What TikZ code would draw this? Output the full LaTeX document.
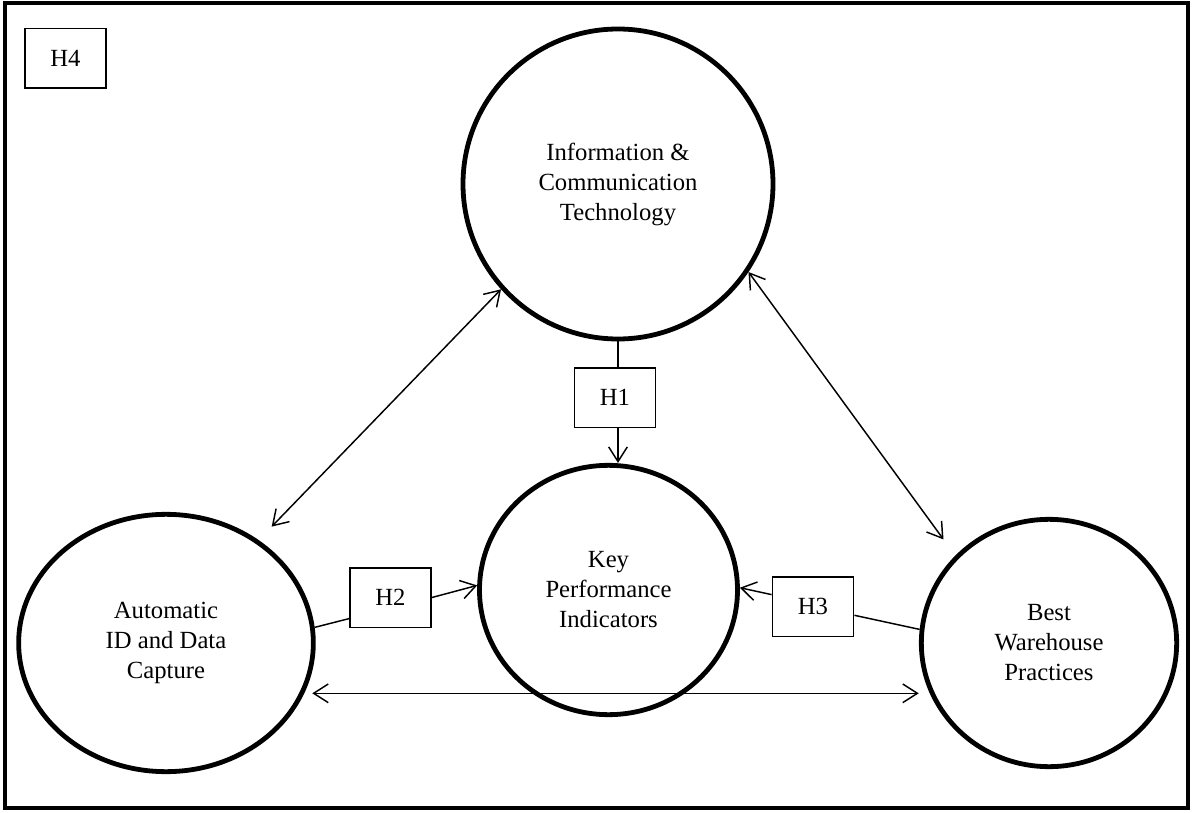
\documentclass[tikz,border=0pt]{standalone}
\usepackage{fontspec}
\setmainfont{Liberation Serif}
\usetikzlibrary{shapes.geometric,arrows.meta}
\begin{document}
\begin{tikzpicture}[x=0.75pt,y=-0.75pt,
  bub/.style={draw,ellipse,line width=3.6pt,inner sep=0pt,align=center,font=\fontsize{18.5}{22.5}\selectfont},
  hbox/.style={draw,rectangle,line width=1.1pt,inner sep=0pt,minimum width=61pt,minimum height=44.6pt,font=\fontsize{18.5}{22}\selectfont},
  conn/.style={line width=1.1pt},
  barb/.tip={Straight Barb[length=11pt,width=14pt]},
  arr/.style={conn,-barb},
  darr/.style={conn,barb-barb}]
\useasboundingbox (0,0) rectangle (1193,813);
\draw[line width=3.6pt] (5,3) rectangle (1188,808);
% bubbles
\node[bub,minimum width=232.5pt,minimum height=232.5pt] (ict) at (618,184) {Information \&\\Communication\\Technology};
\node[bub,minimum width=193.5pt,minimum height=187pt] (kpi) at (608.5,590) {Key\\Performance\\Indicators};
\node[bub,minimum width=221pt,minimum height=193pt] (aidc) at (166,643) {Automatic\\ID and Data\\Capture};
\node[bub,minimum width=191.5pt,minimum height=185.5pt] (bwp) at (1049,643) {Best\\Warehouse\\Practices};
% hypothesis boxes
\node[hbox] (h4) at (65.5,58.5) {H4};
\node[hbox] (h1) at (615,397.5) {H1};
\node[hbox] (h2) at (390.5,597.5) {H2};
\node[hbox] (h3) at (813,606.5) {H3};
% connectors
\draw[conn] (ict.south) -- (ict.south |- h1.north);
\draw[arr] (ict.south |- h1.south) -- (ict.south |- kpi.north);
\draw[conn] (aidc.6) -- (h2.207);
\draw[arr] (h2.east) -- (kpi.178);
\draw[conn] (bwp.174) -- (h3.-12);
\draw[arr] (h3.164) -- (kpi.1);
\draw[darr,shorten >=14pt] (ict.222) -- (aidc.48);
\draw[darr,shorten >=15pt] (ict.-34) -- (bwp.137);
\draw[darr,shorten <=6pt,shorten >=7pt] (aidc.-20) -- (aidc.-20 -| bwp.201);
\end{tikzpicture}
\end{document}
